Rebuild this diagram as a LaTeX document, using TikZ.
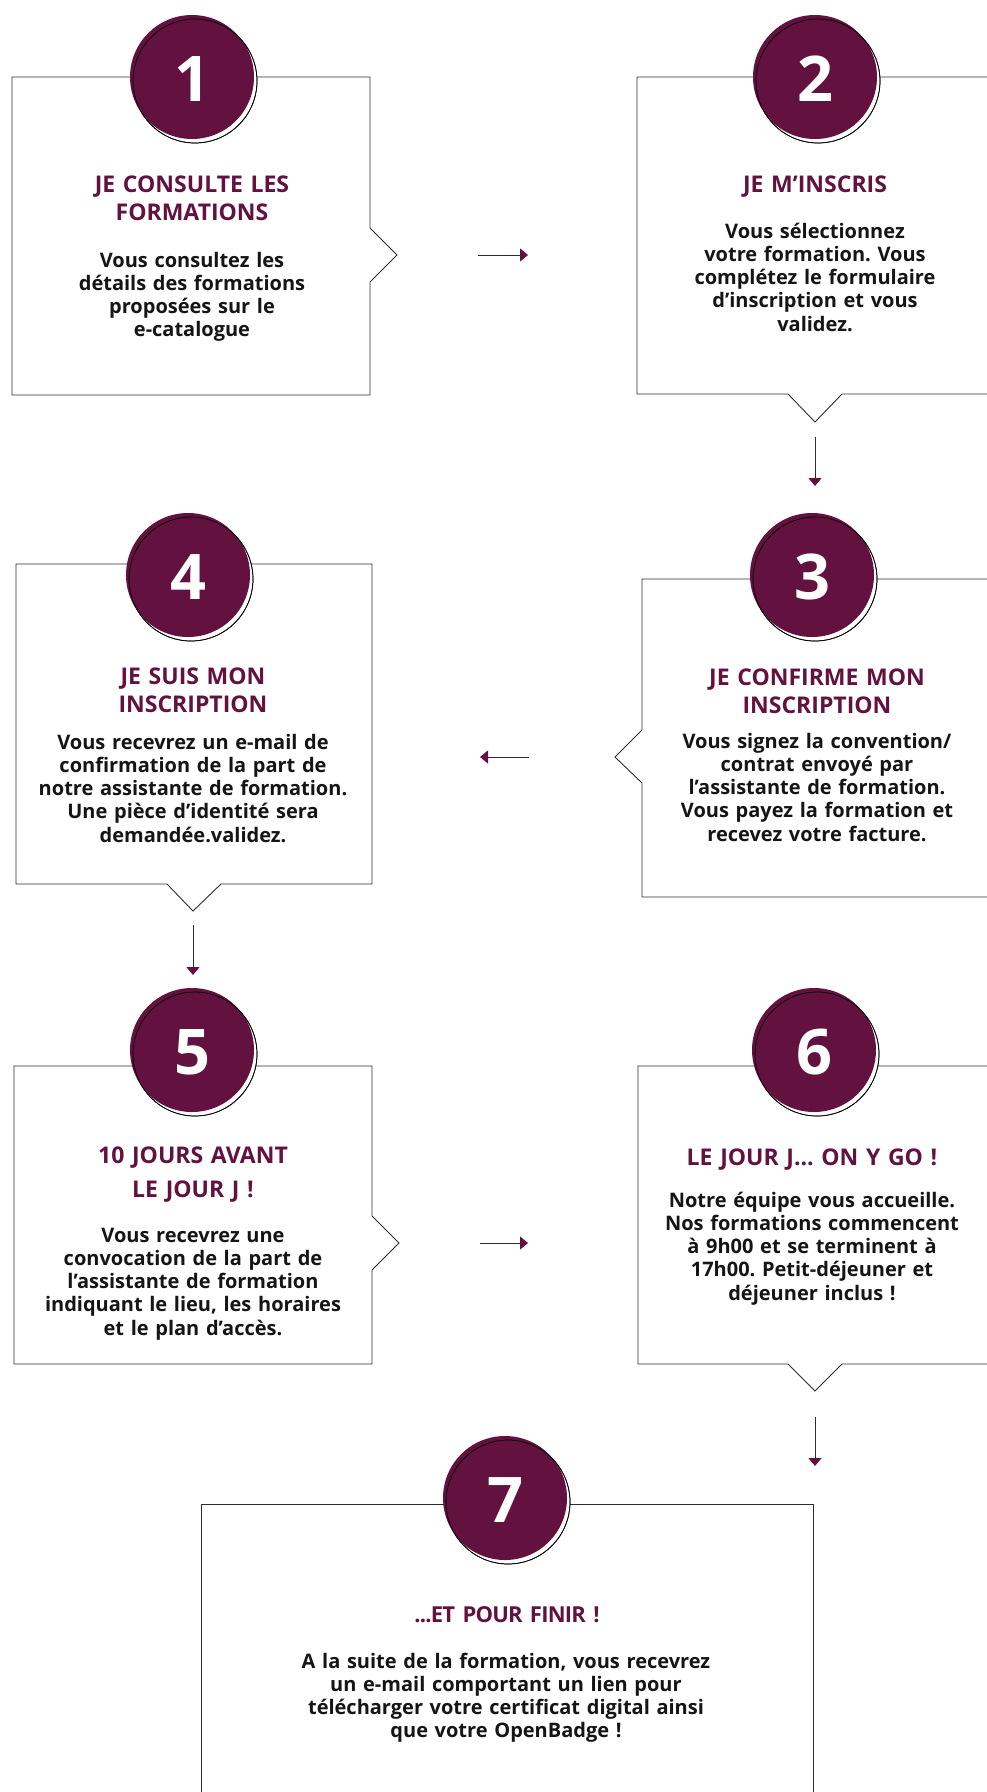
\documentclass[tikz,border=0pt]{standalone}
\usepackage{fontspec}
\setmainfont{Open Sans}
\usetikzlibrary{arrows.meta,calc}
\definecolor{plum}{HTML}{63123F}
\definecolor{ink}{HTML}{151515}
\definecolor{edge}{HTML}{2E2E2E}
\newfontfamily\tightfont[LetterSpace=-3.5,WordSpace=0.6]{Open Sans}
\frenchspacing
\tikzset{
  boxline/.style={draw=edge, line width=0.9pt, line join=miter},
  badgefill/.style={fill=plum},
  badgering/.style={draw=black, line width=0.7pt},
  digit/.style={text=white, font=\fontsize{63}{63}\selectfont\bfseries, inner sep=0pt},
  titletext/.style={text=plum, font=\fontsize{23}{28}\selectfont\bfseries, align=center, text width=360pt, anchor=base, inner sep=0pt},
  tighttitle/.style={text=plum, font=\fontsize{22}{28}\selectfont\tightfont\bfseries, align=center, text width=400pt, anchor=base, inner sep=0pt},
  bodytext/.style={text=ink, font=\fontsize{20}{23.3}\selectfont\bfseries, align=center, text width=400pt, anchor=base, inner sep=0pt},
  flow/.style={draw=edge, line width=0.9pt, -{Triangle[length=8pt,width=13pt,color=plum]}}
}
\newcommand{\badge}[3]{%
  \fill[white, badgering] ($(#1)+(3,4)$) circle (62);
  \fill[badgefill] (#1) circle (62);
  \draw[badgering] ($(#1)+(3,4)$) circle (62);
  \node[digit] (#2) at ($(#1)+(0,2)$) {#3};
}
\begin{document}
\begin{tikzpicture}[x=1pt,y=-1pt]
\useasboundingbox (0,0) rectangle (987,1792);
\clip (0,0) rectangle (987,1792);
\fill[white] (0,0) rectangle (987,1792);

% boxes
\draw[boxline] (12,77) -- (370,77) -- (370,228) -- (397,255) -- (370,282) -- (370,395) -- (12,395) -- cycle;
\draw[boxline] (995,77) -- (637,77) -- (637,394) -- (788,394) -- (815,422) -- (842,394) -- (995,394);
\draw[boxline] (995,579) -- (642,579) -- (642,730) -- (615,757) -- (642,783) -- (642,897) -- (995,897);
\draw[boxline] (16,564) -- (372,564) -- (372,884) -- (221,884) -- (193,911) -- (167,884) -- (16,884) -- cycle;
\draw[boxline] (14,1066) -- (372,1066) -- (372,1216) -- (399,1243) -- (372,1270) -- (372,1364) -- (14,1364) -- cycle;
\draw[boxline] (995,1066) -- (638,1066) -- (638,1364) -- (788,1364) -- (815,1391) -- (842,1364) -- (995,1364);
\draw[boxline] (201,1800) -- (201,1504) -- (813,1504) -- (813,1800);

% badges
\coordinate (c1) at (192,77);
\coordinate (c2) at (815,77);
\coordinate (c3) at (812,575);
\coordinate (c4) at (188,575);
\coordinate (c5) at (192,1050);
\coordinate (c6) at (814,1050);
\coordinate (c7) at (505,1498);
\badge{c1}{n1}{1}
\badge{c2}{n2}{2}
\badge{c3}{n3}{3}
\badge{c4}{n4}{4}
\badge{c5}{n5}{5}
\badge{c6}{n6}{6}
\badge{c7}{n7}{7}

% titles
\node[titletext] (t1) at (192,192) {JE CONSULTE LES\\FORMATIONS};
\node[titletext] (t2) at (815,192) {JE M’INSCRIS};
\node[titletext] (t3) at (817,685) {JE CONFIRME MON\\INSCRIPTION};
\node[titletext] (t4) at (193,684) {JE SUIS MON\\INSCRIPTION};
\node[titletext, font=\fontsize{23}{34}\selectfont\bfseries] (t5) at (193,1163) {10 JOURS AVANT\\LE JOUR J !};
\node[titletext] (t6) at (812,1165) {LE JOUR J... ON Y GO !};
\node[tighttitle] (t7) at (507,1622) {...ET POUR FINIR !};

% bodies
\node[bodytext] (b1) at (192,267) {Vous consultez les\\détails des formations\\proposées sur le\\e-catalogue};
\node[bodytext] (b2) at (815,238) {Vous sélectionnez\\votre formation. Vous\\complétez le formulaire\\d’inscription et vous\\validez.};
\node[bodytext] (b3) at (817,748) {Vous signez la convention/\\contrat envoyé par\\l’assistante de formation.\\Vous payez la formation et\\recevez votre facture.};
\node[bodytext] (b4) at (193,749) {Vous recevrez un e-mail de\\confirmation de la part de\\notre assistante de formation.\\Une pièce d’identité sera\\demandée.validez.};
\node[bodytext] (b5) at (193,1242) {Vous recevrez une\\convocation de la part de\\l’assistante de formation\\indiquant le lieu, les horaires\\et le plan d’accès.};
\node[bodytext] (b6) at (812,1207) {Notre équipe vous accueille.\\Nos formations commencent\\à 9h00 et se terminent à\\17h00. Petit-déjeuner et\\déjeuner inclus !};
\node[bodytext, text width=600pt] (b7) at (506,1668) {A la suite de la formation, vous recevrez\\un e-mail comportant un lien pour\\télécharger votre certificat digital ainsi\\que votre OpenBadge !};

% connectors
\coordinate (a12s) at (478,255); \coordinate (a12e) at (528,255);
\coordinate (a23s) at (815,437); \coordinate (a23e) at (815,486);
\coordinate (a34s) at (529,757); \coordinate (a34e) at (480,757);
\coordinate (a45s) at (193,925); \coordinate (a45e) at (193,975);
\coordinate (a56s) at (480,1243); \coordinate (a56e) at (528,1243);
\coordinate (a67s) at (815,1417); \coordinate (a67e) at (815,1466);
\draw[flow] (a12s) -- (a12e);
\draw[flow] (a23s) -- (a23e);
\draw[flow] (a34s) -- (a34e);
\draw[flow] (a45s) -- (a45e);
\draw[flow] (a56s) -- (a56e);
\draw[flow] (a67s) -- (a67e);
\end{tikzpicture}
\end{document}
